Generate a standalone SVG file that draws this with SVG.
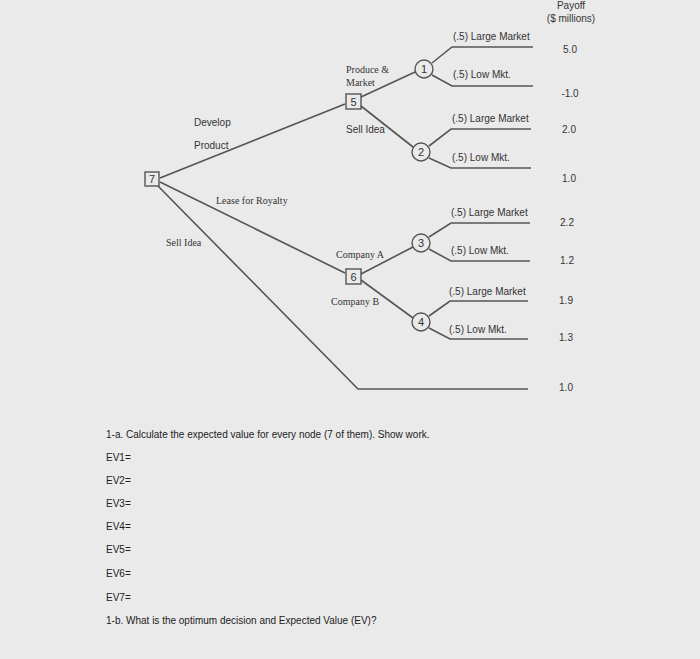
<svg xmlns="http://www.w3.org/2000/svg" width="700" height="659" viewBox="0 0 700 659">
<style>
.l{stroke:#555;stroke-width:1.6;fill:none}
.n{fill:none;stroke:#555;stroke-width:1.4}
.t{font-family:"Liberation Sans",sans-serif;font-size:10px;fill:#333}
.s{font-family:"Liberation Serif",serif;font-size:10px;fill:#333}
.q{font-family:"Liberation Sans",sans-serif;font-size:10px;fill:#222}
.nm{font-family:"Liberation Sans",sans-serif;font-size:11px;fill:#333;text-anchor:middle}
</style>
<rect width="700" height="659" fill="#eaeaea"/>
<g id="connectors">
<path class="l" d="M160,178 L345,104"/>
<path class="l" d="M160,182 L345,273"/>
<path class="l" d="M158,186 L358,389 L528,389"/>
<path class="l" d="M361,97 L415,72"/>
<path class="l" d="M361,106 L413,147"/>
<path class="l" d="M361,274 L413,247"/>
<path class="l" d="M361,280 L413,318"/>
<path class="l" d="M432,63 L452,47 L533,47"/>
<path class="l" d="M432,75 L452,86 L533,86"/>
<path class="l" d="M429,146 L451,129 L531,129"/>
<path class="l" d="M429,158 L451,168 L531,168"/>
<path class="l" d="M429,237 L451,223 L530,223"/>
<path class="l" d="M429,249 L451,261 L530,261"/>
<path class="l" d="M429,316 L450,301 L528,301"/>
<path class="l" d="M429,328 L450,339 L528,339"/>
</g>
<g id="node7"><rect class="n" x="145" y="172" width="14" height="14" fill="#eaeaea"/><text class="nm" x="152" y="183">7</text></g>
<g id="node5"><rect class="n" x="346" y="94" width="15" height="15"/><text class="nm" x="353.5" y="106">5</text></g>
<g id="node6"><rect class="n" x="346" y="269" width="15" height="15"/><text class="nm" x="353.5" y="281">6</text></g>
<g id="node1"><circle class="n" cx="424" cy="69" r="9" fill="#eaeaea"/><text class="nm" x="424" y="73">1</text></g>
<g id="node2"><circle class="n" cx="421" cy="152" r="9" fill="#eaeaea"/><text class="nm" x="421" y="156">2</text></g>
<g id="node3"><circle class="n" cx="421" cy="243" r="9" fill="#eaeaea"/><text class="nm" x="421" y="247">3</text></g>
<g id="node4"><circle class="n" cx="421" cy="322" r="9" fill="#eaeaea"/><text class="nm" x="421" y="326">4</text></g>
<g id="labels">
<text class="t" x="194" y="126">Develop</text>
<text class="t" x="194" y="149">Product</text>
<text class="s" x="346" y="73">Produce &amp;</text>
<text class="s" x="346" y="86">Market</text>
<text class="t" x="346" y="133">Sell Idea</text>
<text class="s" x="216" y="204">Lease for Royalty</text>
<text class="s" x="166" y="246">Sell Idea</text>
<text class="s" x="336" y="258">Company A</text>
<text class="s" x="331" y="305">Company B</text>
<text class="t" x="453" y="40">(.5) Large Market</text>
<text class="t" x="453" y="78">(.5) Low Mkt.</text>
<text class="t" x="452" y="122">(.5) Large Market</text>
<text class="t" x="452" y="161">(.5) Low Mkt.</text>
<text class="t" x="451" y="216">(.5) Large Market</text>
<text class="t" x="451" y="254">(.5) Low Mkt.</text>
<text class="t" x="449" y="295">(.5) Large Market</text>
<text class="t" x="449" y="333">(.5) Low Mkt.</text>
</g>
<g id="payoffs" class="t" text-anchor="middle">
<text x="571" y="9">Payoff</text>
<text x="571" y="22">($ millions)</text>
<text x="570" y="53">5.0</text>
<text x="570" y="97">-1.0</text>
<text x="569" y="133">2.0</text>
<text x="569" y="182">1.0</text>
<text x="567" y="226">2.2</text>
<text x="567" y="264">1.2</text>
<text x="566" y="304">1.9</text>
<text x="566" y="341">1.3</text>
<text x="566" y="391">1.0</text>
</g>
<g id="questions">
<text class="q" x="106" y="438">1-a. Calculate the expected value for every node (7 of them). Show work.</text>
<text class="q" x="106" y="461">EV1=</text>
<text class="q" x="106" y="484">EV2=</text>
<text class="q" x="106" y="507">EV3=</text>
<text class="q" x="106" y="530">EV4=</text>
<text class="q" x="106" y="553">EV5=</text>
<text class="q" x="106" y="577">EV6=</text>
<text class="q" x="106" y="601">EV7=</text>
<text class="q" x="106" y="624">1-b. What is the optimum decision and Expected Value (EV)?</text>
</g>
</svg>
